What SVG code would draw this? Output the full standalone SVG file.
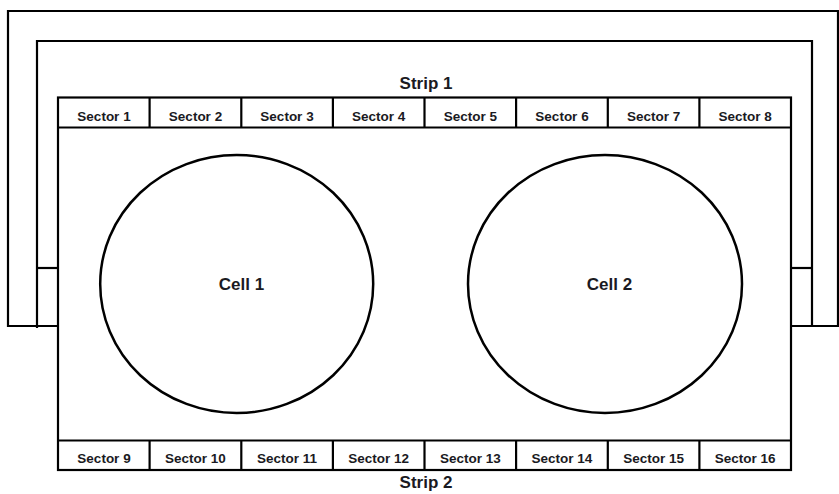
<svg xmlns="http://www.w3.org/2000/svg" width="839" height="494" viewBox="0 0 839 494">
<style>
.ln{fill:none;stroke:#000;stroke-width:2.2}
.cell{fill:#fff;stroke:#000;stroke-width:2.5}
.sec{font-family:"Liberation Sans",Arial,sans-serif;font-weight:bold;font-size:13.5px;fill:#1a1a22;text-anchor:middle}
.big{font-family:"Liberation Sans",Arial,sans-serif;font-weight:bold;font-size:17px;fill:#1a1a22;text-anchor:middle}
</style>
<rect width="839" height="494" fill="#fff"/>
<g id="connectors">
<polyline class="ln" points="58,326 8,326 8,11 838,11 838,326 791,326"/>
<polyline class="ln" points="37,328 37,41 812,41 812,326"/>
<line class="ln" x1="37" y1="268" x2="58" y2="268"/>
<line class="ln" x1="791" y1="268" x2="812" y2="268"/>
</g>
<g id="body">
<rect class="ln" x="58" y="97.5" width="733" height="372.5"/>
</g>
<g id="strip1">
<line class="ln" x1="58" y1="127.5" x2="791" y2="127.5"/>
<line class="ln" x1="149.6" y1="97.5" x2="149.6" y2="127.5"/>
<line class="ln" x1="241.3" y1="97.5" x2="241.3" y2="127.5"/>
<line class="ln" x1="332.9" y1="97.5" x2="332.9" y2="127.5"/>
<line class="ln" x1="424.5" y1="97.5" x2="424.5" y2="127.5"/>
<line class="ln" x1="516.1" y1="97.5" x2="516.1" y2="127.5"/>
<line class="ln" x1="607.8" y1="97.5" x2="607.8" y2="127.5"/>
<line class="ln" x1="699.4" y1="97.5" x2="699.4" y2="127.5"/>
<text class="big" x="426" y="89">Strip 1</text>
<text class="sec" x="104" y="120.5">Sector 1</text>
<text class="sec" x="195.5" y="120.5">Sector 2</text>
<text class="sec" x="287" y="120.5">Sector 3</text>
<text class="sec" x="378.7" y="120.5">Sector 4</text>
<text class="sec" x="470.3" y="120.5">Sector 5</text>
<text class="sec" x="562" y="120.5">Sector 6</text>
<text class="sec" x="653.6" y="120.5">Sector 7</text>
<text class="sec" x="745.2" y="120.5">Sector 8</text>
</g>
<g id="strip2">
<line class="ln" x1="58" y1="440.5" x2="791" y2="440.5"/>
<line class="ln" x1="149.6" y1="440.5" x2="149.6" y2="470"/>
<line class="ln" x1="241.3" y1="440.5" x2="241.3" y2="470"/>
<line class="ln" x1="332.9" y1="440.5" x2="332.9" y2="470"/>
<line class="ln" x1="424.5" y1="440.5" x2="424.5" y2="470"/>
<line class="ln" x1="516.1" y1="440.5" x2="516.1" y2="470"/>
<line class="ln" x1="607.8" y1="440.5" x2="607.8" y2="470"/>
<line class="ln" x1="699.4" y1="440.5" x2="699.4" y2="470"/>
<text class="sec" x="104" y="462.5">Sector 9</text>
<text class="sec" x="195.5" y="462.5">Sector 10</text>
<text class="sec" x="287" y="462.5">Sector 11</text>
<text class="sec" x="378.7" y="462.5">Sector 12</text>
<text class="sec" x="470.3" y="462.5">Sector 13</text>
<text class="sec" x="562" y="462.5">Sector 14</text>
<text class="sec" x="653.6" y="462.5">Sector 15</text>
<text class="sec" x="745.2" y="462.5">Sector 16</text>
<text class="big" x="426" y="488">Strip 2</text>
</g>
<g id="cell1">
<ellipse class="cell" cx="236.7" cy="284" rx="136.5" ry="129"/>
<text class="big" x="241.5" y="290">Cell 1</text>
</g>
<g id="cell2">
<ellipse class="cell" cx="605" cy="284" rx="137" ry="129"/>
<text class="big" x="609.5" y="290">Cell 2</text>
</g>
</svg>
